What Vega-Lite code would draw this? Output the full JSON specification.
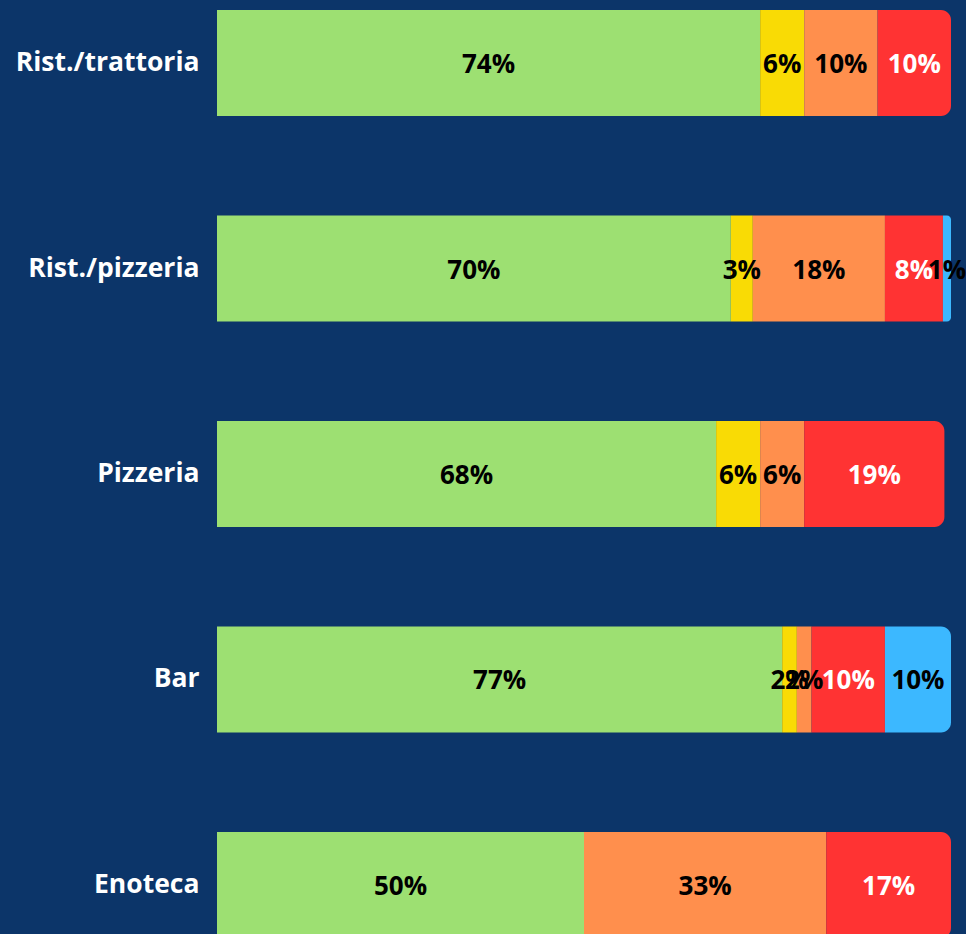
{
  "$schema": "https://vega.github.io/schema/vega-lite/v6.json",
  "autosize": "none",
  "width": 734,
  "height": 948,
  "padding": {"left": 217, "top": 0, "right": 15, "bottom": 0},
  "background": "#0c3569",
  "config": {"view": {"stroke": null}, "font": "Open Sans"},
  "data": {"values": [
    {"cat": "Rist./trattoria", "s": "green", "o": 1, "v": 74, "lbl": "74%"},
    {"cat": "Rist./trattoria", "s": "yellow", "o": 2, "v": 6, "lbl": "6%"},
    {"cat": "Rist./trattoria", "s": "orange", "o": 3, "v": 10, "lbl": "10%"},
    {"cat": "Rist./trattoria", "s": "red", "o": 4, "v": 10, "lbl": "10%"},
    {"cat": "Rist./pizzeria", "s": "green", "o": 1, "v": 70, "lbl": "70%"},
    {"cat": "Rist./pizzeria", "s": "yellow", "o": 2, "v": 3, "lbl": "3%"},
    {"cat": "Rist./pizzeria", "s": "orange", "o": 3, "v": 18, "lbl": "18%"},
    {"cat": "Rist./pizzeria", "s": "red", "o": 4, "v": 7.9, "lbl": "8%"},
    {"cat": "Rist./pizzeria", "s": "blue", "o": 5, "v": 1.1, "lbl": "1%"},
    {"cat": "Pizzeria", "s": "green", "o": 1, "v": 68, "lbl": "68%"},
    {"cat": "Pizzeria", "s": "yellow", "o": 2, "v": 6, "lbl": "6%"},
    {"cat": "Pizzeria", "s": "orange", "o": 3, "v": 6, "lbl": "6%"},
    {"cat": "Pizzeria", "s": "red", "o": 4, "v": 19.1, "lbl": "19%"},
    {"cat": "Bar", "s": "green", "o": 1, "v": 77, "lbl": "77%"},
    {"cat": "Bar", "s": "yellow", "o": 2, "v": 2, "lbl": "2%"},
    {"cat": "Bar", "s": "orange", "o": 3, "v": 2, "lbl": "2%"},
    {"cat": "Bar", "s": "red", "o": 4, "v": 10, "lbl": "10%"},
    {"cat": "Bar", "s": "blue", "o": 5, "v": 9, "lbl": "10%"},
    {"cat": "Enoteca", "s": "green", "o": 1, "v": 50, "lbl": "50%"},
    {"cat": "Enoteca", "s": "orange", "o": 3, "v": 33, "lbl": "33%"},
    {"cat": "Enoteca", "s": "red", "o": 4, "v": 17, "lbl": "17%"}
  ]},
  "transform": [
    {"stack": "v", "groupby": ["cat"], "sort": [{"field": "o", "order": "ascending"}], "as": ["x0", "x1"]},
    {"joinaggregate": [{"op": "max", "field": "x1", "as": "rowEnd"}], "groupby": ["cat"]},
    {"calculate": "(datum.x0 + datum.x1) / 2", "as": "mid"}
  ],
  "encoding": {
    "y": {
      "field": "cat", "type": "nominal",
      "sort": ["Rist./trattoria", "Rist./pizzeria", "Pizzeria", "Bar", "Enoteca"],
      "scale": {"paddingInner": 0.4842, "paddingOuter": 0.0487},
      "axis": {
        "title": null, "ticks": false, "domain": false, "grid": false,
        "labelColor": "white", "labelFont": "Open Sans", "labelFontWeight": "bold",
        "labelFontSize": 26.5, "labelPadding": 18, "labelLimit": 400
      }
    }
  },
  "layer": [
    {
      "mark": {
        "type": "bar",
        "cornerRadiusTopRight": {"expr": "datum.x1 >= datum.rowEnd ? 10 : 0"},
        "cornerRadiusBottomRight": {"expr": "datum.x1 >= datum.rowEnd ? 10 : 0"}
      },
      "encoding": {
        "x": {"field": "x0", "type": "quantitative", "scale": {"domain": [0, 100], "nice": false, "zero": true}, "axis": null},
        "x2": {"field": "x1"},
        "color": {
          "field": "s", "type": "nominal", "legend": null,
          "scale": {"domain": ["green", "yellow", "orange", "red", "blue"],
                    "range": ["#9de072", "#f9db05", "#ff8f4d", "#ff3333", "#3cb8ff"]}
        }
      }
    },
    {
      "mark": {"type": "text", "font": "Open Sans", "fontWeight": "bold", "fontSize": 26, "baseline": "middle", "align": "center", "dy": 2},
      "encoding": {
        "x": {"field": "mid", "type": "quantitative"},
        "text": {"field": "lbl"},
        "color": {"condition": {"test": "datum.s === 'red'", "value": "white"}, "value": "black"}
      }
    }
  ]
}
